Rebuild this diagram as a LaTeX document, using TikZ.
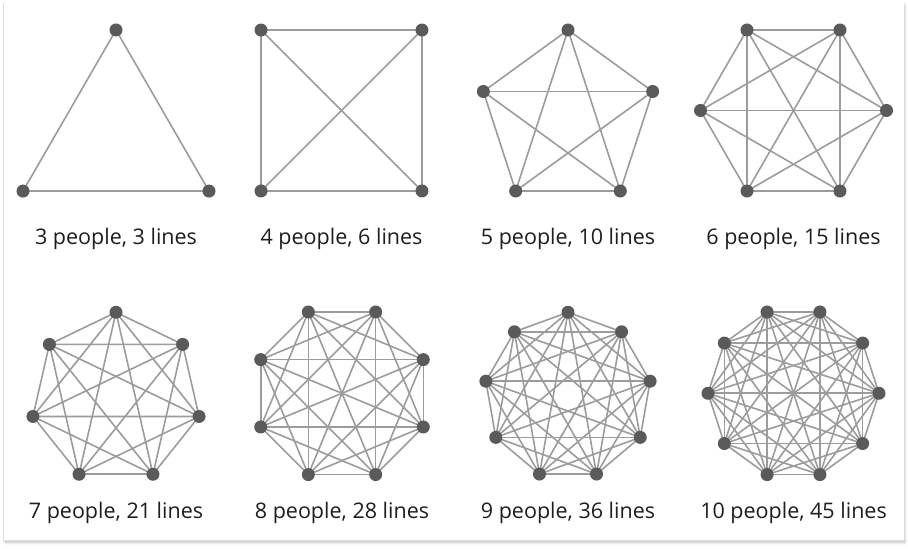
\documentclass[tikz,border=0pt]{standalone}
\usepackage{fontspec}
\setmainfont{Open Sans}
\usetikzlibrary{calc}
\pgfdeclarelayer{framelayer}
\pgfdeclarelayer{bg}
\pgfsetlayers{framelayer,bg,main}
\definecolor{edgegray}{HTML}{9C9C9C}
\definecolor{dotgray}{HTML}{5A5A5A}
\definecolor{txtgray}{HTML}{1E1E1E}
\tikzset{
  edgeline/.style={draw=edgegray, line width=1.6pt},
  dotnode/.style={circle, fill=dotgray, inner sep=0pt, minimum size=13pt},
  caption/.style={anchor=base, text=txtgray, font=\fontsize{21.5}{24}\selectfont, inner sep=0pt},
}
\newcommand\kgraph[6]{% prefix, cx, cy, R, n, start angle
  \foreach \i in {1,...,#5}{
    \node[dotnode] (#1\i) at ($(#2,#3)+({#6+360*(\i-1)/#5}:#4)$) {};
  }
  \begin{pgfonlayer}{bg}
  \foreach \i in {1,...,#5}{
    \foreach \j in {1,...,#5}{
      \ifnum\j>\i \draw[edgeline] (#1\i.center) -- (#1\j.center); \fi
    }
  }
  \end{pgfonlayer}
}
\begin{document}
\begin{tikzpicture}[x=1pt,y=1pt]
\useasboundingbox (0,0) rectangle (908,549);
% frame with soft shadow
\begin{pgfonlayer}{framelayer}
\foreach \k/\o in {5/0.03,4/0.04,3/0.05,2/0.07,1/0.09}{
  \fill[black, opacity=\o] (3+\k*0.4,9-\k) rectangle (904+\k*0.6,544);
}
\fill[white] (3,9) rectangle (904,549);
\draw[black!13, line width=0.8pt] (3,546) -- (3,9) -- (904,9) -- (904,546);
\end{pgfonlayer}
% row 1
\kgraph{a}{116}{411.6}{107.4}{3}{90}
\kgraph{b}{341.5}{438.5}{113.8}{4}{45}
\kgraph{c}{568}{430}{89}{5}{90}
\kgraph{d}{793.5}{438.5}{93}{6}{0}
% row 2
\kgraph{e}{116}{151.5}{85.2}{7}{90}
\kgraph{f}{342}{155.7}{88}{8}{22.5}
\kgraph{g}{568}{153.3}{83.4}{9}{90}
\kgraph{h}{793.5}{155.7}{85.5}{10}{0}
% captions
\node[caption] (ta) at (116,304) {3 people, 3 lines};
\node[caption] (tb) at (341.5,304) {4 people, 6 lines};
\node[caption] (tc) at (568,304) {5 people, 10 lines};
\node[caption] (td) at (793.5,304) {6 people, 15 lines};
\node[caption] (te) at (116,30) {7 people, 21 lines};
\node[caption] (tf) at (342,30) {8 people, 28 lines};
\node[caption] (tg) at (568,30) {9 people, 36 lines};
\node[caption] (th) at (793.5,30) {10 people, 45 lines};
\end{tikzpicture}
\end{document}
